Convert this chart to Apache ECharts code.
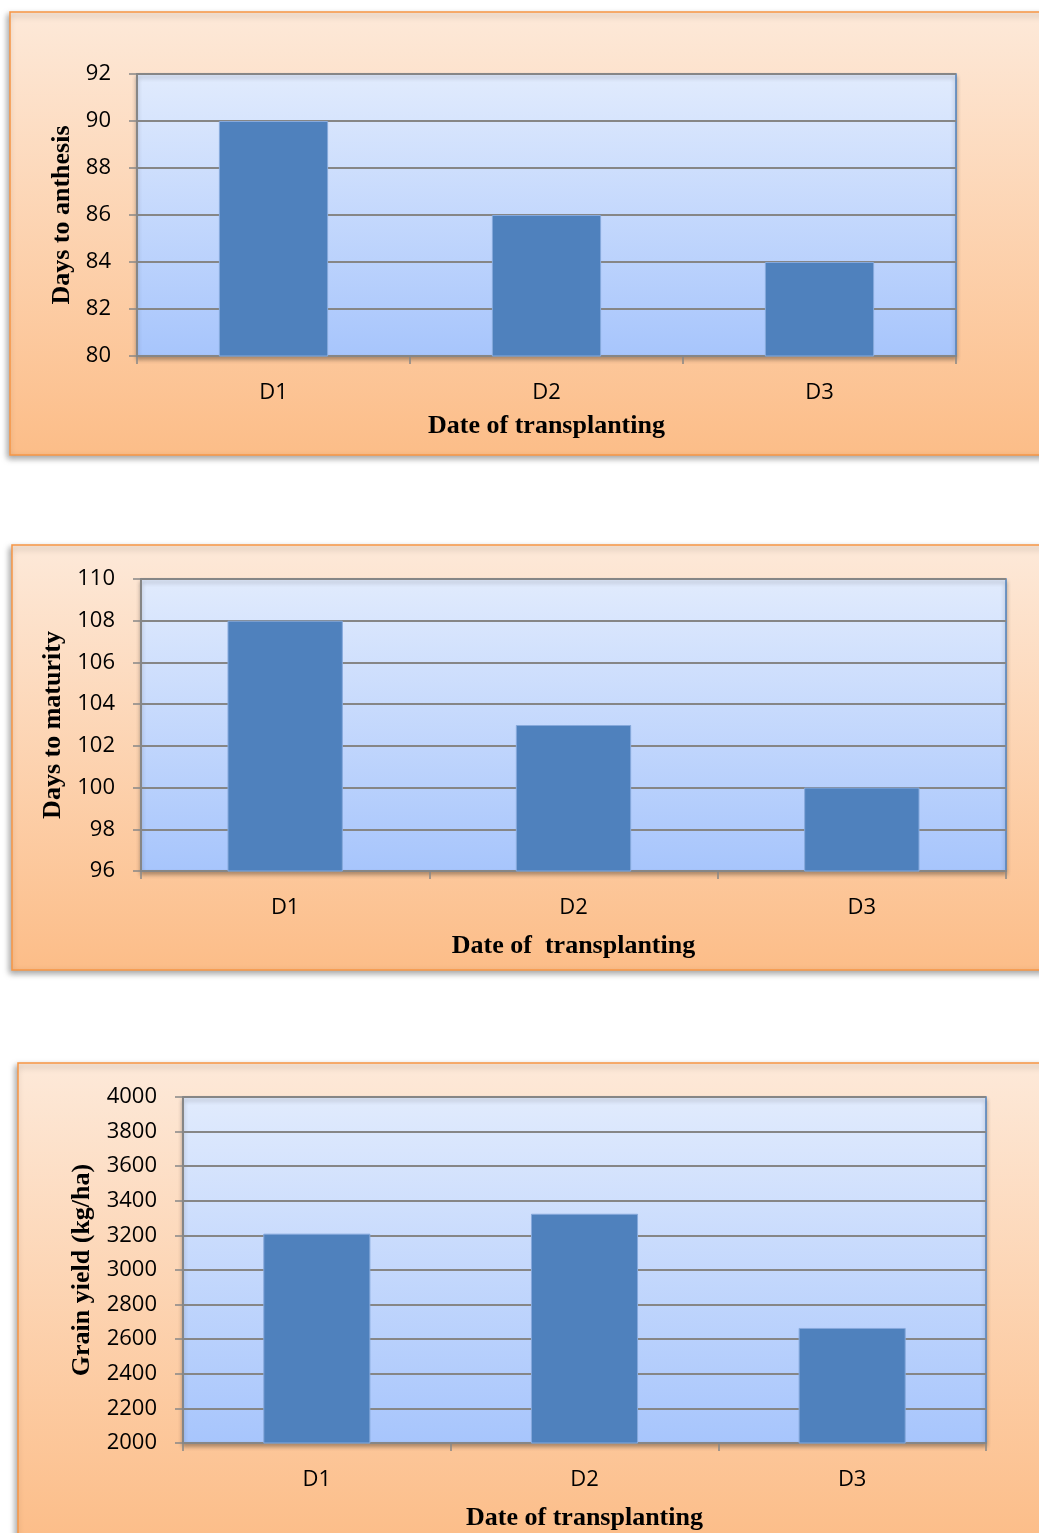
<!DOCTYPE html>
<html>
<head>
<meta charset="utf-8">
<script src="https://cdn.jsdelivr.net/npm/echarts@6/dist/echarts.min.js"></script>
<style>
  html, body { margin: 0; padding: 0; background: #fff; }
  #main { width: 1039px; height: 1533px; }
</style>
</head>
<body>
<div id="main"></div>
<script>
// 数据
const categories = ['D1', 'D2', 'D3']
const daysToAnthesis = [90, 86, 84]
const daysToMaturity = [108, 103, 100]
const grainYield = [3210, 3325, 2665]

const labelFont = { color: '#000', fontSize: 22, fontFamily: 'Open Sans' }
const titleFont = { color: '#000', fontSize: 26, fontWeight: 'bold', fontFamily: 'Liberation Serif' }

// 面板背景
function panel(x, y, w, h) {
  return {
    type: 'rect',
    z: -10,
    shape: { x: x, y: y, width: w, height: h },
    style: {
      fill: {
        type: 'linear', x: 0, y: 0, x2: 0, y2: 1,
        colorStops: [{ offset: 0, color: '#fde9d9' }, { offset: 1, color: '#fcbd88' }]
      },
      stroke: '#f79646',
      lineWidth: 1.5,
      shadowBlur: 6,
      shadowOffsetX: -2,
      shadowOffsetY: 3,
      shadowColor: 'rgba(0,0,0,0.35)'
    }
  }
}

// 绘图区
function grid(left, top, width, height) {
  return {
    left: left, top: top, width: width, height: height,
    show: true,
    backgroundColor: {
      type: 'linear', x: 0, y: 0, x2: 0, y2: 1,
      colorStops: [{ offset: 0, color: '#e1ebfd' }, { offset: 1, color: '#a7c5fc' }]
    },
    borderColor: '#4f81bd',
    borderWidth: 1.5,
    shadowBlur: 4,
    shadowOffsetY: 3,
    shadowColor: 'rgba(0,0,0,0.3)'
  }
}

function xAxis(idx, name, gap) {
  return {
    type: 'category',
    gridIndex: idx,
    data: categories,
    name: name,
    nameLocation: 'middle',
    nameGap: gap,
    nameTextStyle: titleFont,
    axisLine: { lineStyle: { color: '#868686', width: 2 } },
    axisTick: { show: true, length: 8, lineStyle: { color: '#868686', width: 1.5 } },
    axisLabel: Object.assign({ margin: 26 }, labelFont)
  }
}

function yAxis(idx, name, gap, min, max, interval) {
  return {
    type: 'value',
    gridIndex: idx,
    min: min, max: max, interval: interval,
    name: name,
    nameLocation: 'middle',
    nameGap: gap,
    nameTextStyle: titleFont,
    axisLine: { show: true, lineStyle: { color: '#868686', width: 2 } },
    axisTick: { show: true, length: 8, lineStyle: { color: '#868686', width: 1.5 } },
    axisLabel: Object.assign({ margin: 26, padding: [3, 0, 0, 0], formatter: v => String(v) }, labelFont),
    splitLine: { lineStyle: { color: '#868686', width: 2 } }
  }
}

function bars(idx, data) {
  return {
    type: 'bar',
    xAxisIndex: idx,
    yAxisIndex: idx,
    data: data,
    barWidth: '40%',
    itemStyle: { color: '#4f81bd', borderColor: '#86a9dc', borderWidth: 1 }
  }
}

const myChart = echarts.init(document.querySelector('#main'))

const option = {
  animation: false,
  graphic: [
    panel(10, 12, 1040, 443),
    panel(12, 545, 1040, 425),
    panel(18, 1063, 1040, 480)
  ],
  grid: [
    grid(137, 74, 819, 282),
    grid(141, 579, 865, 292),
    grid(183, 1097, 803, 346)
  ],
  xAxis: [
    xAxis(0, 'Date of transplanting', 57),
    xAxis(1, 'Date of  transplanting', 62),
    xAxis(2, 'Date of transplanting', 62)
  ],
  yAxis: [
    yAxis(0, 'Days to anthesis', 62, 80, 92, 2),
    yAxis(1, 'Days to maturity', 75, 96, 110, 2),
    yAxis(2, 'Grain yield (kg/ha)', 88, 2000, 4000, 200)
  ],
  series: [
    bars(0, daysToAnthesis),
    bars(1, daysToMaturity),
    bars(2, grainYield)
  ]
}

myChart.setOption(option)
</script>
</body>
</html>
